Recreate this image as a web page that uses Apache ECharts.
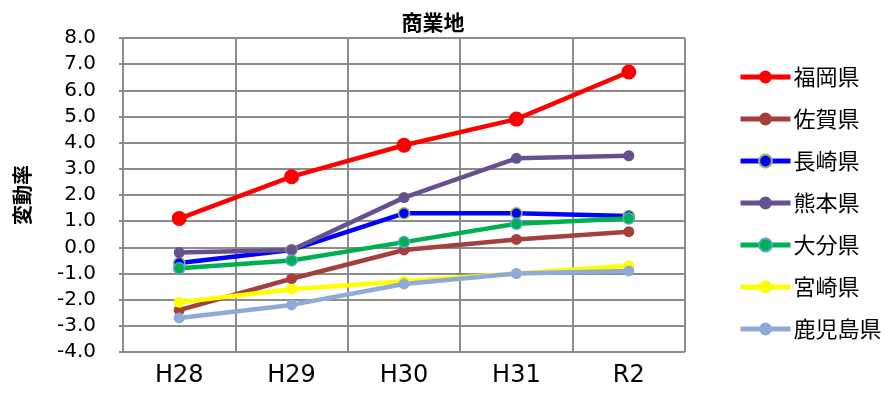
<!DOCTYPE html>
<html>
<head>
<meta charset="utf-8">
<script src="https://cdn.jsdelivr.net/npm/echarts@6/dist/echarts.min.js"></script>
<style>
  html, body {margin: 0; padding: 0; background: #fff;}
  #chart {width: 888px; height: 398px;}
</style>
</head>
<body>
<div id="chart"></div>
<script>
// data
const years = ['H28', 'H29', 'H30', 'H31', 'R2'];
const fukuoka = [1.1, 2.7, 3.9, 4.9, 6.7];
const saga = [-2.4, -1.2, -0.1, 0.3, 0.6];
const nagasaki = [-0.6, -0.1, 1.3, 1.3, 1.2];
const kumamoto = [-0.2, -0.1, 1.9, 3.4, 3.5];
const oita = [-0.8, -0.5, 0.2, 0.9, 1.1];
const miyazaki = [-2.1, -1.6, -1.3, -1.0, -0.7];
const kagoshima = [-2.7, -2.2, -1.4, -1.0, -0.9];

const gridColor = '#8c8c8c';
const font = '"DejaVu Sans", sans-serif';
const jpFont = '"Noto Sans CJK JP", sans-serif';

const makeSeries = (name, data, color, opts) => Object.assign({
	name: name,
	type: 'line',
	data: data,
	symbol: 'circle',
	symbolSize: 11,
	color: color,
	lineStyle: {width: 4.5, color: color},
	itemStyle: {color: color},
	animation: false,
}, opts || {});

const myChart = echarts.init(document.getElementById('chart'));
myChart.setOption({
	title: {
		text: '商業地',
		left: 428,
		top: 7,
		textAlign: 'center',
		textStyle: {fontFamily: jpFont, fontSize: 21, fontWeight: 'bold', color: '#000'}
	},
	grid: {left: 123, right: 203, top: 38, bottom: 46},
	legend: {
		orient: 'vertical',
		left: 733,
		top: 60,
		itemWidth: 50,
		itemHeight: 16,
		itemGap: 18,
		lineStyle: {width: 5},
		textStyle: {fontFamily: jpFont, fontSize: 22, color: '#000', lineHeight: 24, padding: [0, 0, 0, -2]},
	},
	xAxis: {
		type: 'category',
		data: years,
		boundaryGap: true,
		axisLine: {lineStyle: {color: gridColor, width: 2}},
		axisTick: {show: true, length: 4, lineStyle: {color: gridColor, width: 2}},
		splitLine: {show: true, lineStyle: {color: gridColor, width: 2}},
		axisLabel: {fontFamily: font, fontSize: 24, color: '#000', margin: 12}
	},
	yAxis: {
		type: 'value',
		min: -4,
		max: 8,
		interval: 1,
		name: '変動率',
		nameLocation: 'middle',
		nameRotate: 90,
		nameGap: 91,
		nameTextStyle: {fontFamily: jpFont, fontSize: 20, fontWeight: 'bold', color: '#000'},
		axisLine: {show: true, lineStyle: {color: gridColor, width: 2}},
		axisTick: {show: true, length: 4, lineStyle: {color: gridColor, width: 2}},
		splitLine: {show: true, lineStyle: {color: gridColor, width: 2}},
		axisLabel: {
			fontFamily: font, fontSize: 20, color: '#000', margin: 27,
			formatter: v => v.toFixed(1)
		}
	},
	series: [
		makeSeries('福岡県', fukuoka, '#ff0000', {symbolSize: 15}),
		makeSeries('佐賀県', saga, '#a3403d'),
		makeSeries('長崎県', nagasaki, '#0000ff', {itemStyle: {color: '#0000ff', borderColor: '#9bbb59', borderWidth: 1.5}}),
		makeSeries('熊本県', kumamoto, '#67508f'),
		makeSeries('大分県', oita, '#00b050', {itemStyle: {color: '#00b050', borderColor: '#4bacc6', borderWidth: 1.5}}),
		makeSeries('宮崎県', miyazaki, '#ffff00'),
		makeSeries('鹿児島県', kagoshima, '#8eaad8'),
	]
});
</script>
</body>
</html>
